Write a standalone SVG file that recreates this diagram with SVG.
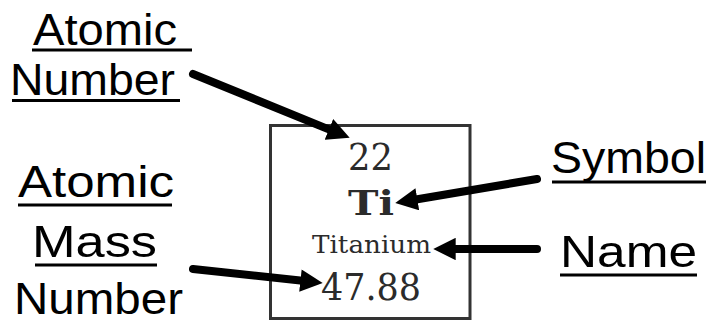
<svg xmlns="http://www.w3.org/2000/svg" width="708" height="321" viewBox="0 0 708 321">
  <style>
    .lbl { font-family: "Liberation Sans", Arial, sans-serif; font-size: 45px; fill: #000; }
    .ul { stroke: #000; stroke-width: 3; }
    .el { font-family: "DejaVu Serif", "Liberation Serif", serif; fill: #2b2b2b; }
    .conn { stroke: #000; stroke-width: 8; stroke-linecap: round; fill: none; marker-end: url(#head); }
  </style>
  <defs>
    <marker id="head" viewBox="0 0 10 10" refX="2" refY="5" markerWidth="2.85" markerHeight="2.8" orient="auto" markerUnits="strokeWidth">
      <path d="M0,0 L10,5 L0,10 z" fill="#000"/>
    </marker>
  </defs>
  <rect width="708" height="321" fill="#fff"/>

  <g id="element">
    <rect x="270.5" y="125.5" width="199.5" height="193" fill="none" stroke="#333" stroke-width="3"/>
    <text class="el" x="348" y="170" font-size="37" textLength="45" lengthAdjust="spacingAndGlyphs">22</text>
    <text class="el" x="348" y="215" font-size="34" font-weight="bold" textLength="46" lengthAdjust="spacingAndGlyphs">Ti</text>
    <text class="el" x="312" y="253" font-size="25" textLength="119" lengthAdjust="spacingAndGlyphs" fill="#333">Titanium</text>
    <text class="el" x="321" y="300" font-size="37" textLength="100" lengthAdjust="spacingAndGlyphs">47.88</text>
  </g>

  <g id="label-atomic-number">
    <text class="lbl" x="33" y="45" textLength="144" lengthAdjust="spacingAndGlyphs">Atomic</text>
    <line class="ul" x1="32" y1="50" x2="192" y2="50"/>
    <text class="lbl" x="10" y="95" textLength="165" lengthAdjust="spacingAndGlyphs">Number</text>
    <line class="ul" x1="12" y1="100.5" x2="180" y2="100.5"/>
  </g>

  <g id="label-atomic-mass">
    <text class="lbl" x="18" y="197" textLength="156" lengthAdjust="spacingAndGlyphs">Atomic</text>
    <line class="ul" x1="18" y1="205" x2="172" y2="205"/>
    <text class="lbl" x="32" y="257" textLength="125" lengthAdjust="spacingAndGlyphs">Mass</text>
    <line class="ul" x1="35" y1="265" x2="157" y2="265"/>
    <text class="lbl" x="14" y="314" textLength="169" lengthAdjust="spacingAndGlyphs">Number</text>
  </g>

  <g id="label-symbol">
    <text class="lbl" x="551" y="173" textLength="155" lengthAdjust="spacingAndGlyphs">Symbol</text>
    <line class="ul" x1="552" y1="182" x2="706" y2="182"/>
  </g>

  <g id="label-name">
    <text class="lbl" x="560" y="267" textLength="137" lengthAdjust="spacingAndGlyphs">Name</text>
    <line class="ul" x1="560" y1="275" x2="697" y2="275"/>
  </g>

  <g id="connectors">
    <line class="conn" x1="193" y1="74" x2="333.1" y2="131.1"/>
    <line class="conn" x1="537" y1="179" x2="412.9" y2="200"/>
    <line class="conn" x1="537" y1="249" x2="451.2" y2="249"/>
    <line class="conn" x1="193" y1="269" x2="304.9" y2="281.1"/>
  </g>
</svg>
